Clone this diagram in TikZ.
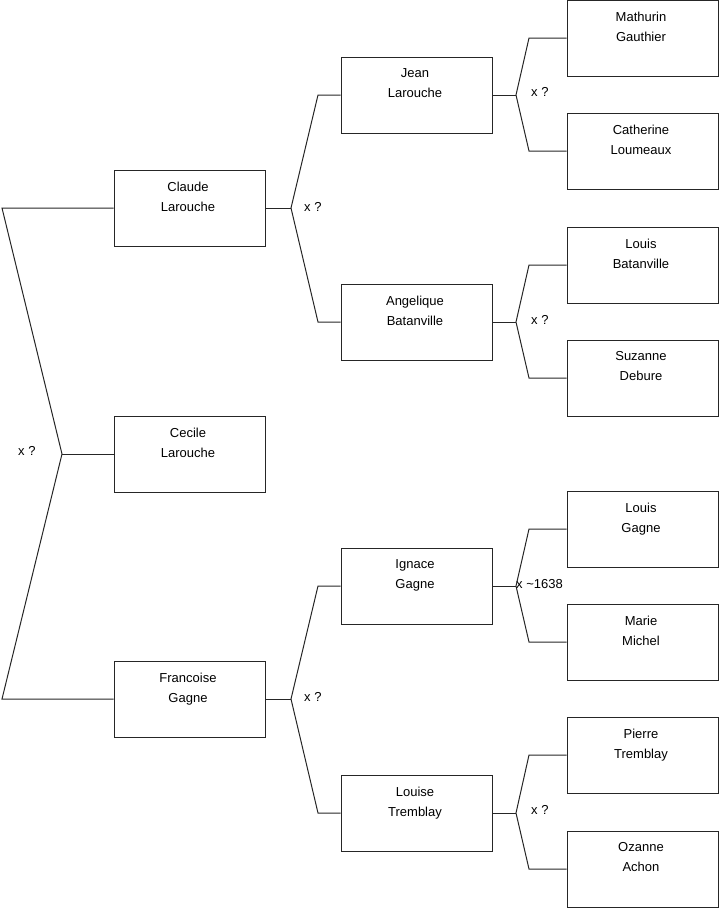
\documentclass[tikz,border=0pt]{standalone}
\usepackage{fontspec}
\setmainfont{Liberation Sans}
\begin{document}
\begin{tikzpicture}[x=1pt,y=-1pt,
  pbox/.style={draw=black!85, line width=1pt, minimum width=151pt, minimum height=76pt, inner sep=0pt},
  ptext/.style={anchor=north, align=center, inner sep=0pt, yshift=-12pt, xshift=-1.5pt, font=\fontsize{13}{20}\selectfont},
  lbl/.style={anchor=west, inner sep=0pt, font=\fontsize{13}{15}\selectfont},
  conn/.style={draw=black!85, line width=1pt}]
\useasboundingbox (0,0) rectangle (719,908);
% column 1
\node[pbox] (claude) at (189.5,208) {};
\node[pbox] (cecile) at (189.5,454) {};
\node[pbox] (francoise) at (189.5,699) {};
% column 2
\node[pbox] (jean) at (416.5,95) {};
\node[pbox] (angelique) at (416.5,322) {};
\node[pbox] (ignace) at (416.5,586) {};
\node[pbox] (louise) at (416.5,813) {};
% column 3
\node[pbox] (mathurin) at (642.5,38) {};
\node[pbox] (catherine) at (642.5,151) {};
\node[pbox] (louisb) at (642.5,265) {};
\node[pbox] (suzanne) at (642.5,378) {};
\node[pbox] (louisg) at (642.5,529) {};
\node[pbox] (marie) at (642.5,642) {};
\node[pbox] (pierre) at (642.5,755) {};
\node[pbox] (ozanne) at (642.5,869) {};
% texts
\node[ptext] at (claude.north) {Claude\\Larouche};
\node[ptext] at (cecile.north) {Cecile\\Larouche};
\node[ptext] at (francoise.north) {Francoise\\Gagne};
\node[ptext] at (jean.north) {Jean\\Larouche};
\node[ptext] at (angelique.north) {Angelique\\Batanville};
\node[ptext] at (ignace.north) {Ignace\\Gagne};
\node[ptext] at (louise.north) {Louise\\Tremblay};
\node[ptext] at (mathurin.north) {Mathurin\\Gauthier};
\node[ptext] at (catherine.north) {Catherine\\Loumeaux};
\node[ptext] at (louisb.north) {Louis\\Batanville};
\node[ptext] at (suzanne.north) {Suzanne\\Debure};
\node[ptext] at (louisg.north) {Louis\\Gagne};
\node[ptext] at (marie.north) {Marie\\Michel};
\node[ptext] at (pierre.north) {Pierre\\Tremblay};
\node[ptext] at (ozanne.north) {Ozanne\\Achon};
% branch coordinates
\coordinate (root) at (62,454);
\coordinate (rt) at (2,208);
\coordinate (rb) at (2,699);
\coordinate (bc) at (291,208);
\coordinate (bct) at (318,95);
\coordinate (bcb) at (318,322);
\coordinate (bf) at (291,699);
\coordinate (bft) at (318,586);
\coordinate (bfb) at (318,813);
\coordinate (bj) at (516,95);
\coordinate (bjt) at (529,38);
\coordinate (bjb) at (529,151);
\coordinate (ba) at (516,322);
\coordinate (bat) at (529,265);
\coordinate (bab) at (529,378);
\coordinate (bi) at (516,586);
\coordinate (bit) at (529,529);
\coordinate (bib) at (529,642);
\coordinate (bl) at (516,813);
\coordinate (blt) at (529,755);
\coordinate (blb) at (529,869);
% connectors
\draw[conn] (claude.west) -- (rt) -- (root) -- (rb) -- (francoise.west);
\draw[conn] (root) -- (cecile.west);
\draw[conn] (claude.east) -- (bc);
\draw[conn] (jean.west) -- (bct) -- (bc) -- (bcb) -- (angelique.west);
\draw[conn] (francoise.east) -- (bf);
\draw[conn] (ignace.west) -- (bft) -- (bf) -- (bfb) -- (louise.west);
\draw[conn] (jean.east) -- (bj);
\draw[conn] (mathurin.west) -- (bjt) -- (bj) -- (bjb) -- (catherine.west);
\draw[conn] (angelique.east) -- (ba);
\draw[conn] (louisb.west) -- (bat) -- (ba) -- (bab) -- (suzanne.west);
\draw[conn] (ignace.east) -- (bi);
\draw[conn] (louisg.west) -- (bit) -- (bi) -- (bib) -- (marie.west);
\draw[conn] (louise.east) -- (bl);
\draw[conn] (pierre.west) -- (blt) -- (bl) -- (blb) -- (ozanne.west);
% labels
\node[lbl] (l0) at (18,451) {x ?};
\node[lbl] (l1) at (304,207) {x ?};
\node[lbl] (l2) at (304,697) {x ?};
\node[lbl] (l3) at (531,92) {x ?};
\node[lbl] (l4) at (531,320) {x ?};
\node[lbl] (l5) at (516,584) {x \textasciitilde 1638};
\node[lbl] (l6) at (531,810) {x ?};
\end{tikzpicture}
\end{document}
